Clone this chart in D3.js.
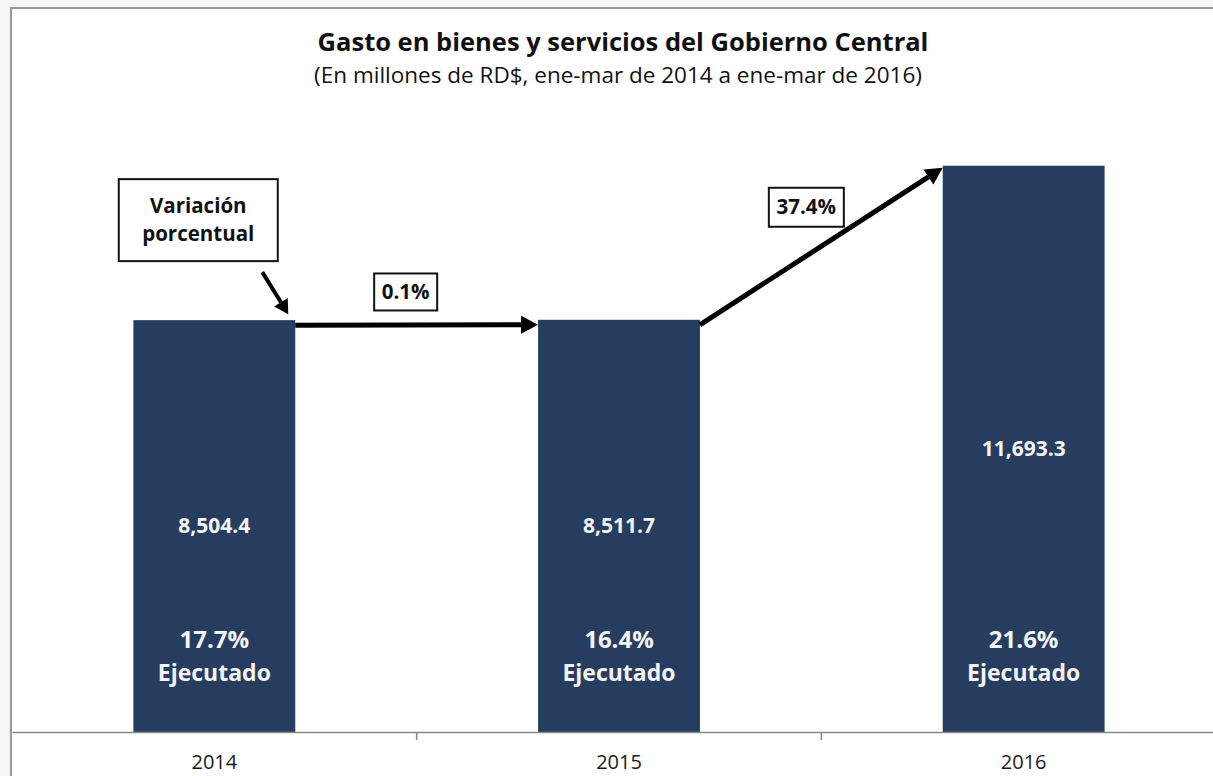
<!DOCTYPE html>
<html>

<head>
    <meta charset="utf-8">
    <style>
        body {
            margin: 0;
            background: #f6f6f6;
        }

        svg {
            display: block;
            font-family: "Open Sans", sans-serif;
        }

        .bar {
            fill: #263d5f;
        }

        .title {
            font-weight: bold;
            font-size: 25.5px;
            fill: #111;
            text-anchor: middle;
        }

        .subtitle {
            font-size: 22.5px;
            fill: #111;
            text-anchor: middle;
        }

        .inbar {
            fill: #f4f4f4;
            font-weight: bold;
            text-anchor: middle;
        }

        .note {
            font-weight: bold;
            font-size: 20.5px;
            fill: #111;
            text-anchor: middle;
        }

        .note-box {
            fill: #fff;
            stroke: #111;
            stroke-width: 2px;
        }
    </style>
    <script src="https://d3js.org/d3.v7.min.js"></script>
    <title>Gasto en bienes y servicios</title>
</head>

<body>
    <svg id="chart" width="1213" height="776"></svg>
    <script>
        // data
        var years = ["2014", "2015", "2016"];
        var gasto = [8504.4, 8511.7, 11693.3];
        var ejecutado = ["17.7%", "16.4%", "21.6%"];
        var variacion = ["0.1%", "37.4%"];

        var svg = d3.select("svg#chart");
        var base = 732;

        // frame
        svg.append("rect")
            .attr("x", 11).attr("y", 8)
            .attr("width", 1300).attr("height", 800)
            .attr("fill", "#fff")
            .attr("stroke", "#999")
            .attr("stroke-width", 2);

        var x = d3.scaleBand().domain(years).range([12, 1226])
            .paddingInner(0.6).paddingOuter(0.3);
        var y = d3.scaleLinear().domain([0, 14000]).range([base, 54]);
        var bw = x.bandwidth();

        // titles
        svg.append("text").attr("class", "title")
            .attr("x", 623).attr("y", 51)
            .text("Gasto en bienes y servicios del Gobierno Central");
        svg.append("text").attr("class", "subtitle")
            .attr("x", 618).attr("y", 83)
            .text("(En millones de RD$, ene-mar de 2014 a ene-mar de 2016)");

        // bars
        svg.selectAll(".bar")
            .data(gasto)
            .enter()
            .append("rect")
            .attr("class", "bar")
            .attr("x", function (d, i) { return x(years[i]); })
            .attr("y", function (d) { return y(d); })
            .attr("width", bw)
            .attr("height", function (d) { return base - y(d); });

        // axis
        var axis = svg.append("g")
            .attr("transform", "translate(0," + base + ")")
            .call(d3.axisBottom(x).tickSize(0).tickPadding(23));
        axis.select(".domain").attr("stroke", "#888").attr("stroke-width", 1.5);
        axis.selectAll("text")
            .attr("font-family", "Open Sans")
            .attr("font-size", 20)
            .attr("fill", "#1a1a1a");

        var bounds = d3.range(0, years.length).map(function (i) {
            return x.range()[0] + i * x.step();
        });
        svg.selectAll(".sep")
            .data(bounds.slice(1))
            .enter()
            .append("line")
            .attr("x1", function (d) { return d; })
            .attr("x2", function (d) { return d; })
            .attr("y1", base).attr("y2", base + 8)
            .attr("stroke", "#888")
            .attr("stroke-width", 1.5);

        // labels inside bars
        years.forEach(function (yr, i) {
            var cx = x(yr) + bw / 2;
            svg.append("text").attr("class", "inbar")
                .attr("x", cx)
                .attr("y", (y(gasto[i]) + base) / 2)
                .attr("dy", "0.35em")
                .attr("font-size", 21)
                .text(d3.format(",.1f")(gasto[i]));
            svg.append("text").attr("class", "inbar")
                .attr("x", cx).attr("y", base - 92)
                .attr("dy", "0.35em")
                .attr("font-size", 24)
                .text(ejecutado[i]);
            svg.append("text").attr("class", "inbar")
                .attr("x", cx).attr("y", base - 59)
                .attr("dy", "0.35em")
                .attr("font-size", 23)
                .text("Ejecutado");
        });

        // arrows
        function arrow(x1, y1, x2, y2, w, hl, hw) {
            var a = Math.atan2(y2 - y1, x2 - x1);
            var bx = x2 - hl * Math.cos(a), by = y2 - hl * Math.sin(a);
            svg.append("line")
                .attr("x1", x1).attr("y1", y1)
                .attr("x2", bx).attr("y2", by)
                .attr("stroke", "#000")
                .attr("stroke-width", w);
            var px = -Math.sin(a) * hw, py = Math.cos(a) * hw;
            svg.append("path")
                .attr("d", "M" + x2 + "," + y2 +
                    "L" + (bx + px) + "," + (by + py) +
                    "L" + (bx - px) + "," + (by - py) + "Z")
                .attr("fill", "#000");
        }

        function noteBox(cx, cy, w, h, lines) {
            svg.append("rect").attr("class", "note-box")
                .attr("x", cx - w / 2).attr("y", cy - h / 2)
                .attr("width", w).attr("height", h);
            lines.forEach(function (t, k) {
                svg.append("text").attr("class", "note")
                    .attr("x", cx)
                    .attr("y", cy + (k - (lines.length - 1) / 2) * 28)
                    .attr("dy", "0.35em")
                    .text(t);
            });
        }

        for (var i = 0; i < variacion.length; i++) {
            var x1 = x(years[i]) + bw, y1 = y(gasto[i]) + 5;
            var x2 = x(years[i + 1]), y2 = y(gasto[i + 1]) + (i === 0 ? 5 : 2);
            arrow(x1, y1, x2, y2, 5, 17, 9);
            var mx = (x1 + x2) / 2, my = (y1 + y2) / 2;
            if (i === 0) {
                noteBox(mx - 11, my - 33, 63, 37, [variacion[i]]);
            } else {
                noteBox(mx - 15, my - 39, 75, 39, [variacion[i]]);
            }
        }

        // "Variación porcentual" callout
        var ax = x(years[0]) + bw, ay = y(gasto[0]);
        noteBox(ax - 97, ay - 100, 159, 82, ["Variación", "porcentual"]);
        arrow(ax - 33, ay - 48, ax - 7, ay - 6, 4, 14, 8);
    </script>
</body>

</html>
